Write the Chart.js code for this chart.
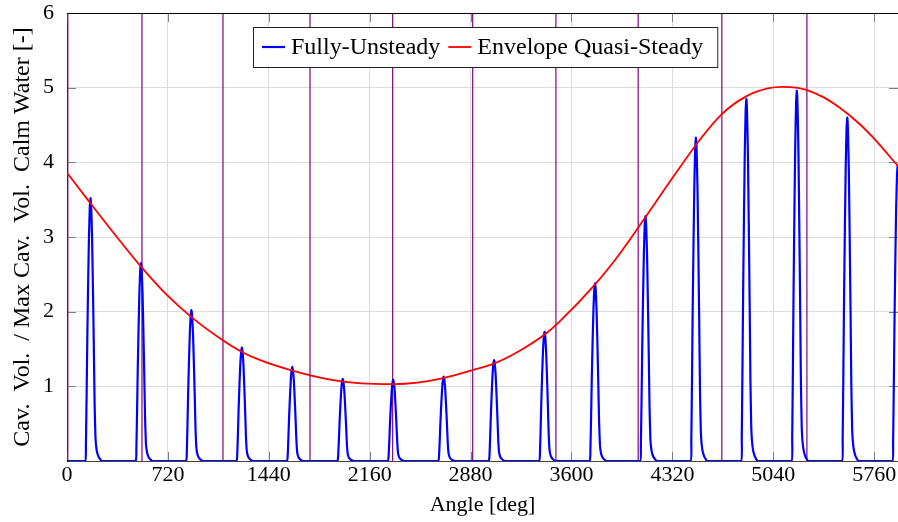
<!DOCTYPE html>
<html>
<head>
<meta charset="utf-8">
<script src="https://cdn.jsdelivr.net/npm/chart.js@4.4.0/dist/chart.umd.min.js"></script>
<style>
    html, body { margin: 0; padding: 0; background: #fff; }
    #wrap { width: 898px; height: 522px; }
</style>
</head>
<body>
<div id="wrap"><canvas id="chartCav" width="898" height="522"></canvas></div>
<script>
// axes
const xMax = 5930;
const xTicks = [0, 720, 1440, 2160, 2880, 3600, 4320, 5040, 5760];
const yTicks = [1, 2, 3, 4, 5, 6];

// Fully-Unsteady: one spike per revolution (angle of peak, peak height)
const peakAngles = [168, 528, 888, 1248, 1608, 1968, 2328, 2688, 3048, 3408, 3768, 4128, 4488, 4848, 5208, 5568, 5928];
const peakValues = [3.52, 2.65, 2.02, 1.52, 1.26, 1.10, 1.09, 1.13, 1.35, 1.73, 2.38, 3.28, 4.33, 4.85, 4.96, 4.60, 3.96];
// spike profile (deg from peak, share of the peak)
const shapeOffsets = [-38, -33, -28, -23, -17, -11, -5, 0, 5, 11, 17, 23, 29, 35, 44, 58, 80];
const shapeShares = [0, 0.06, 0.25, 0.47, 0.68, 0.86, 0.97, 1, 0.96, 0.85, 0.66, 0.45, 0.22, 0.09, 0.04, 0.015, 0];

// Envelope Quasi-Steady
const envAngles = [0, 168, 360, 525, 720, 886, 1117, 1248, 1379, 1608, 1877, 2100, 2329, 2500, 2686, 2900, 3041, 3234, 3413, 3516, 3770, 3950, 4126, 4320, 4515, 4669, 4843, 5000, 5109, 5204, 5275, 5400, 5515, 5658, 5753, 5930];
const envValues = [3.86, 3.45, 2.99, 2.61, 2.21, 1.93, 1.61, 1.46, 1.35, 1.21, 1.09, 1.04, 1.03, 1.05, 1.11, 1.22, 1.30, 1.48, 1.70, 1.87, 2.37, 2.79, 3.26, 3.79, 4.30, 4.64, 4.88, 4.99, 5.01, 5.00, 4.97, 4.87, 4.73, 4.51, 4.33, 3.95];

// purple vertical markers
const markerAngles = [0, 535, 1113, 1734, 2324, 2895, 3489, 4076, 4673, 5280];

const FONT = "'Liberation Serif', 'Times New Roman', serif";
Chart.defaults.font.family = FONT;
Chart.defaults.font.size = 22;
Chart.defaults.color = "#000";

const unsteadyData = [{ x: 0, y: 0 }];
peakAngles.forEach(function (a, i) {
    shapeOffsets.forEach(function (o, j) {
        unsteadyData.push({ x: a + o, y: peakValues[i] * shapeShares[j] });
    });
});
const envelopeData = envAngles.map((a, i) => ({ x: a, y: envValues[i] }));

// markers, inner tick marks and top frame line
const frameMarks = {
    id: "frameMarks",
    beforeDatasetsDraw(chart) {
        const { ctx, chartArea: a, scales } = chart;
        ctx.save();
        ctx.beginPath();
        ctx.rect(a.left, a.top, a.right - a.left, a.bottom - a.top);
        ctx.clip();

        ctx.strokeStyle = "#7f7f7f";
        ctx.lineWidth = 1;
        const tl = 9;
        xTicks.forEach(function (v) {
            const px = Math.round(scales.x.getPixelForValue(v)) + 0.5;
            ctx.beginPath();
            ctx.moveTo(px, a.bottom);
            ctx.lineTo(px, a.bottom - tl);
            ctx.moveTo(px, a.top);
            ctx.lineTo(px, a.top + tl);
            ctx.stroke();
        });
        yTicks.forEach(function (v) {
            const py = Math.round(scales.y.getPixelForValue(v)) + 0.5;
            ctx.beginPath();
            ctx.moveTo(a.left, py);
            ctx.lineTo(a.left + tl, py);
            ctx.moveTo(a.right, py);
            ctx.lineTo(a.right - tl, py);
            ctx.stroke();
        });

        ctx.strokeStyle = "#800080";
        ctx.lineWidth = 1.2;
        markerAngles.forEach(function (v) {
            const px = scales.x.getPixelForValue(v) + (v === 0 ? 0.8 : 0);
            ctx.beginPath();
            ctx.moveTo(px, a.top);
            ctx.lineTo(px, a.bottom);
            ctx.stroke();
        });
        ctx.restore();

        ctx.save();
        ctx.strokeStyle = "#000";
        ctx.lineWidth = 1;
        ctx.beginPath();
        ctx.moveTo(a.left, Math.round(a.top) + 0.5);
        ctx.lineTo(a.right, Math.round(a.top) + 0.5);
        ctx.stroke();
        ctx.restore();
    },
};

// boxed legend inside the plot
const boxLegend = {
    id: "boxLegend",
    afterDatasetsDraw(chart) {
        const ctx = chart.ctx;
        const items = chart.data.datasets;
        ctx.save();
        ctx.font = "24px " + FONT;
        const left = 253, top = 27, h = 40;
        const gaps = [9, 8];
        let w = 0;
        items.forEach(function (ds, i) {
            w += gaps[i] + 23 + 6 + ctx.measureText(ds.label).width;
        });
        w += 14;
        ctx.fillStyle = "#fff";
        ctx.fillRect(left, top, w, h);
        ctx.strokeStyle = "#222";
        ctx.lineWidth = 1;
        ctx.strokeRect(left + 0.5, top + 0.5, w, h);
        let x = left;
        const cy = top + h / 2;
        items.forEach(function (ds, i) {
            x += gaps[i];
            ctx.strokeStyle = ds.borderColor;
            ctx.lineWidth = ds.borderWidth;
            ctx.beginPath();
            ctx.moveTo(x, cy);
            ctx.lineTo(x + 23, cy);
            ctx.stroke();
            x += 29;
            ctx.fillStyle = "#000";
            ctx.textBaseline = "middle";
            ctx.fillText(ds.label, x, cy + 1);
            x += ctx.measureText(ds.label).width;
        });
        ctx.restore();
    },
};

new Chart(document.getElementById("chartCav"), {
    type: "line",
    data: {
        datasets: [
            {
                label: "Fully-Unsteady",
                data: unsteadyData,
                borderColor: "#0000ff",
                borderWidth: 2.2,
                pointRadius: 0,
                tension: 0.1,
                order: 1,
            },
            {
                label: "Envelope Quasi-Steady",
                data: envelopeData,
                borderColor: "#ff0000",
                borderWidth: 1.8,
                pointRadius: 0,
                cubicInterpolationMode: "monotone",
                order: 0,
            },
        ],
    },
    options: {
        responsive: false,
        animation: false,
        layout: { padding: { top: 13, right: 0, bottom: 0, left: 0 } },
        plugins: {
            legend: { display: false },
            tooltip: { enabled: false },
        },
        scales: {
            x: {
                type: "linear",
                min: 0,
                max: xMax,
                afterBuildTicks: (s) => { s.ticks = xTicks.map((v) => ({ value: v })); },
                afterFit: (s) => { s.height = 61; },
                grid: { color: "#dcdcdc", drawTicks: false },
                border: { color: "#444", width: 1 },
                ticks: {
                    padding: 1,
                    maxRotation: 0,
                    autoSkip: false,
                    callback: (v) => String(v),
                },
                title: {
                    display: true,
                    text: "Angle [deg]",
                    padding: { top: 0, bottom: 4 },
                },
            },
            y: {
                min: 0,
                max: 6,
                afterBuildTicks: (s) => { s.ticks = yTicks.map((v) => ({ value: v })); },
                afterFit: (s) => {
                    s.width = 67;
                    s.paddingTop = 0;
                    s.paddingBottom = 0;
                },
                grid: { color: "#dcdcdc", drawTicks: false },
                border: { color: "#000", width: 1 },
                ticks: {
                    padding: 13,
                    callback: (v) => String(v),
                },
                title: {
                    display: true,
                    text: "Cav.  Vol.  / Max Cav.  Vol.  Calm Water [-]",
                    font: { size: 24 },
                    padding: { top: 8, bottom: 0 },
                },
            },
        },
    },
    plugins: [frameMarks, boxLegend],
});
</script>
</body>
</html>
